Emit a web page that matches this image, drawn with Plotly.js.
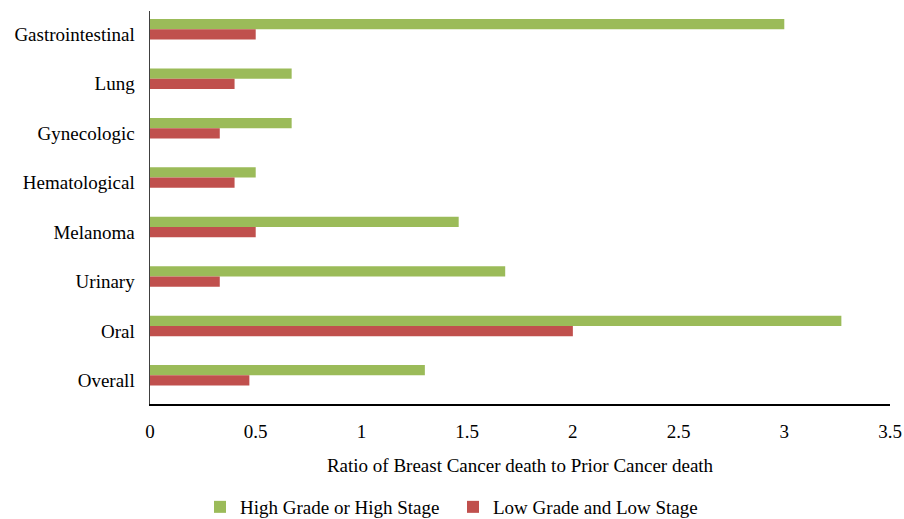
<!DOCTYPE html>
<html>
<head>
<meta charset="utf-8">
<script src="https://cdn.plot.ly/plotly-3.0.1.min.js"></script>
<style>html,body{margin:0;padding:0;background:#fff;}#chart{width:904px;height:519px;}</style>
</head>
<body>
<div id="chart"></div>
<script>
const categories = ['Gastrointestinal', 'Lung', 'Gynecologic', 'Hematological', 'Melanoma', 'Urinary', 'Oral', 'Overall'];
const highGradeOrHighStage = [3.0, 0.67, 0.67, 0.5, 1.46, 1.68, 3.27, 1.3];
const lowGradeAndLowStage = [0.5, 0.4, 0.33, 0.4, 0.5, 0.33, 2.0, 0.47];
const xTickValues = [0, 0.5, 1, 1.5, 2, 2.5, 3, 3.5];
const xTickLabels = ['0', '0.5', '1', '1.5', '2', '2.5', '3', '3.5'];

const FONT = '"Liberation Serif", "Times New Roman", serif';

const traces = [
  {
    type: 'bar', orientation: 'h', name: 'High Grade or High Stage',
    y: categories, x: highGradeOrHighStage,
    marker: {color: '#9BBB59'}
  },
  {
    type: 'bar', orientation: 'h', name: 'Low Grade and Low Stage',
    y: categories, x: lowGradeAndLowStage,
    marker: {color: '#C0504D'}
  }
];

const layout = {
  width: 904, height: 519,
  margin: {l: 150, r: 14, t: 11, b: 115},
  paper_bgcolor: '#ffffff', plot_bgcolor: '#ffffff',
  font: {family: FONT, size: 19, color: '#000000'},
  barmode: 'group', bargap: 0.585, bargroupgap: 0,
  showlegend: true,
  legend: {
    orientation: 'h', xref: 'container', yref: 'container',
    x: 200 / 904, xanchor: 'left', y: 12 / 519, yanchor: 'middle',
    font: {family: FONT, size: 19, color: '#000000'},
    entrywidth: 208, entrywidthmode: 'pixels'
  },
  xaxis: {
    range: [0, 3.5], tickvals: xTickValues, ticktext: xTickLabels,
    showgrid: false, zeroline: false, showline: true, linecolor: '#000000', linewidth: 2,
    ticks: '', ticklabelstandoff: 9,
    tickfont: {family: FONT, size: 19, color: '#000000'},
    title: {text: 'Ratio of Breast Cancer death to Prior Cancer death', standoff: 18,
            font: {family: FONT, size: 19, color: '#000000'}},
    fixedrange: true
  },
  yaxis: {
    type: 'category', categoryorder: 'array', categoryarray: categories,
    range: [7.58, -0.37],
    showgrid: false, zeroline: false, showline: true, linecolor: '#404040', linewidth: 1.5,
    ticks: '', ticklabelstandoff: 10, ticklabelshift: -5,
    tickfont: {family: FONT, size: 19, color: '#000000'},
    fixedrange: true
  }
};

Plotly.newPlot('chart', traces, layout, {displayModeBar: false, staticPlot: true});
</script>
</body>
</html>
